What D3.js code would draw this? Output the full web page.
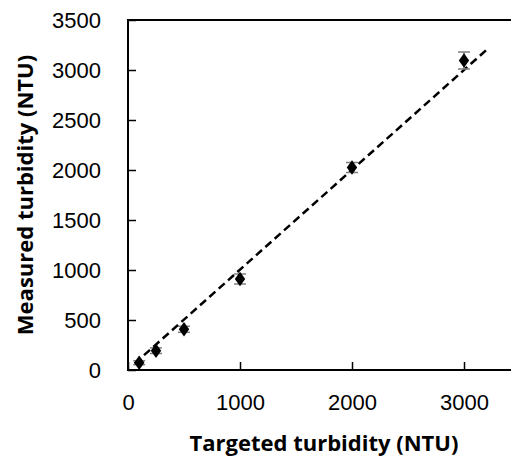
<!DOCTYPE html>
<html>
<head>
<meta charset="utf-8">
<script src="https://cdn.jsdelivr.net/npm/d3@7"></script>
<style>
  body { margin:0; background:#fff; overflow:hidden; }
  svg { display:block; font-family: "Open Sans", Lato, sans-serif; }
</style>
</head>
<body>
<div id="chart"></div>
<script>
// dados
var targeted = [100, 250, 500, 1000, 2000, 3000];
var measured = [73, 193, 407, 910, 2025, 3095];
var errBar   = [20, 28, 30, 50, 50, 85];
var fitX = [60, 3210];
var fitY = [65, 3210];
var xTicks = [0, 1000, 2000, 3000];
var yTicks = [0, 500, 1000, 1500, 2000, 2500, 3000, 3500];

var W = 511, H = 459,
    plot = {left:128, top:20, right:520, bottom:370};

var svg = d3.select("#chart").append("svg")
    .attr("width", W).attr("height", H);

var x = d3.scaleLinear().domain([0, 3500]).range([plot.left, plot.right]),
    y = d3.scaleLinear().domain([0, 3500]).range([plot.bottom, plot.top]);

//----------------- caixa (topo e direita cortados pela imagem)
svg.append("rect")
    .attr("x", plot.left).attr("y", plot.top)
    .attr("width", plot.right - plot.left).attr("height", plot.bottom - plot.top)
    .attr("fill", "none").attr("stroke", "#000").attr("stroke-width", 2);

//----------------- eixo x
var gx = svg.append("g").attr("transform", "translate(0," + plot.bottom + ")")
    .call(d3.axisBottom(x).tickValues(xTicks).tickSize(-8).tickPadding(24).tickFormat(d3.format("d")));
gx.select(".domain").remove();
gx.selectAll("line").attr("stroke", "#000").attr("stroke-width", 1.5);
gx.selectAll("text").attr("font-size", 22).attr("fill", "#000");

//----------------- eixo y
var gy = svg.append("g").attr("transform", "translate(" + plot.left + ",0)")
    .call(d3.axisLeft(y).tickValues(yTicks).tickSize(-8).tickPadding(27).tickFormat(d3.format("d")));
gy.select(".domain").remove();
gy.selectAll("line").attr("stroke", "#000").attr("stroke-width", 1.5);
gy.selectAll("text").attr("font-size", 22).attr("fill", "#000");

// linhas dos eixos por cima dos ticks
svg.append("line").attr("x1", plot.left).attr("x2", plot.left)
   .attr("y1", plot.top).attr("y2", plot.bottom + 1)
   .attr("stroke", "#000").attr("stroke-width", 2);
svg.append("line").attr("x1", plot.left - 1).attr("x2", plot.right)
   .attr("y1", plot.bottom).attr("y2", plot.bottom)
   .attr("stroke", "#000").attr("stroke-width", 2);

//----------------- linha tracejada
svg.append("line")
   .attr("x1", x(fitX[0])).attr("y1", y(fitY[0]))
   .attr("x2", x(fitX[1])).attr("y2", y(fitY[1]))
   .attr("stroke", "#000").attr("stroke-width", 2.5)
   .attr("stroke-dasharray", "8,4.5");

//----------------- barras de erro
var pts = targeted.map(function (t, i) { return {x:t, y:measured[i], e:errBar[i]}; });
var eb = svg.append("g").attr("stroke", "#7f7f7f").attr("stroke-width", 1.5);
pts.forEach(function (d) {
  var cx = x(d.x);
  eb.append("line").attr("x1", cx).attr("x2", cx).attr("y1", y(d.y - d.e)).attr("y2", y(d.y + d.e));
  eb.append("line").attr("x1", cx - 6).attr("x2", cx + 6).attr("y1", y(d.y - d.e)).attr("y2", y(d.y - d.e));
  eb.append("line").attr("x1", cx - 6).attr("x2", cx + 6).attr("y1", y(d.y + d.e)).attr("y2", y(d.y + d.e));
});

//----------------- marcadores (losango)
svg.append("g").selectAll("path").data(pts).enter().append("path")
   .attr("d", d3.symbol().type(d3.symbolDiamond).size(60))
   .attr("transform", function (d) { return "translate(" + x(d.x) + "," + y(d.y) + ") scale(1.25,1)"; })
   .attr("fill", "#000");

//----------------- titulos
svg.append("text").attr("x", (plot.left + plot.right) / 2).attr("y", 451)
   .attr("text-anchor", "middle").attr("font-size", 22).attr("font-weight", "bold")
   .text("Targeted turbidity (NTU)");
svg.append("text").attr("transform", "translate(33," + ((plot.top + plot.bottom) / 2) + ") rotate(-90)")
   .attr("text-anchor", "middle").attr("font-size", 22).attr("font-weight", "bold")
   .text("Measured turbidity (NTU)");
</script>
</body>
</html>
